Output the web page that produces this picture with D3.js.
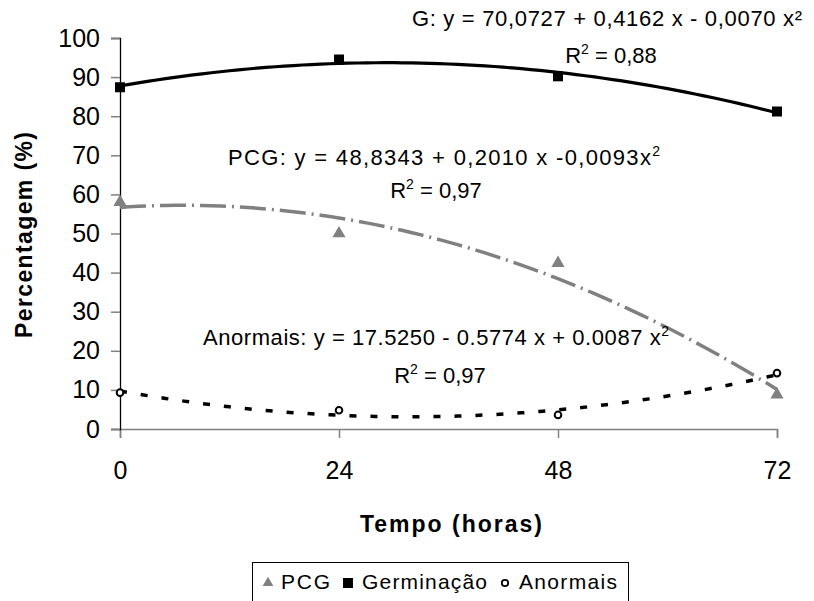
<html>
<head>
<script src="https://cdn.jsdelivr.net/npm/d3@7"></script>
<style>
    body { margin: 0; padding: 0; background: #fff; }
    svg text { font-family: "Liberation Sans", Arial, sans-serif; }
</style>
</head>
<body>
<div id="chart"></div>
<script>
    // horas
    var horas = [0, 24, 48, 72];
    var xTicks = [0, 24, 48, 72];
    var yTicks = [0, 10, 20, 30, 40, 50, 60, 70, 80, 90, 100];

    // medias observadas (%)
    var germinacao = [87.4, 94.5, 90.2, 81.2];
    var pcg = [58.0, 50.0, 42.4, 8.8];
    var anormais = [9.3, 4.8, 3.6, 14.3];

    var W = 814, H = 601;
    var svg = d3.select("#chart").append("svg")
        .attr("width", W).attr("height", H);

    var x = d3.scaleLinear().domain([0, 72]).range([120, 777]);
    var y = d3.scaleLinear().domain([0, 100]).range([429, 38]);

    // ajuste polinomial de 2o grau (minimos quadrados), como a linha de tendencia
    function fitQuad(xs, ys) {
        var n = xs.length, s = [0, 0, 0, 0, 0], t = [0, 0, 0];
        for (var i = 0; i < n; i++) {
            for (var k = 0; k < 5; k++) s[k] += Math.pow(xs[i], k);
            for (var k = 0; k < 3; k++) t[k] += ys[i] * Math.pow(xs[i], k);
        }
        var A = [[s[0], s[1], s[2], t[0]], [s[1], s[2], s[3], t[1]], [s[2], s[3], s[4], t[2]]];
        for (var c = 0; c < 3; c++) {
            for (var r = c + 1; r < 3; r++) {
                var f = A[r][c] / A[c][c];
                for (var k = c; k < 4; k++) A[r][k] -= f * A[c][k];
            }
        }
        var b = [0, 0, 0];
        for (var r = 2; r >= 0; r--) {
            var v = A[r][3];
            for (var k = r + 1; k < 3; k++) v -= A[r][k] * b[k];
            b[r] = v / A[r][r];
        }
        return function(v) { return b[0] + b[1] * v + b[2] * v * v; };
    }

    function trend(ys) {
        var f = fitQuad(horas, ys);
        return d3.range(0, 72.01, 1).map(function(v) { return [v, f(v)]; });
    }

    var line = d3.line()
        .x(function(d) { return x(d[0]); })
        .y(function(d) { return y(d[1]); });

    // eixo x
    var gx = svg.append("g").attr("transform", "translate(0," + y(0) + ")")
        .call(d3.axisBottom(x).tickValues(xTicks).tickSize(9).tickPadding(23));
    gx.select(".domain").attr("stroke", "#808080").attr("stroke-width", 1.5);
    gx.selectAll(".tick line").attr("stroke", "#808080").attr("stroke-width", 1.5);
    gx.selectAll("text").attr("font-size", 25).attr("fill", "#000");

    // eixo y
    var gy = svg.append("g").attr("transform", "translate(" + x(0) + ",0)")
        .call(d3.axisLeft(y).tickValues(yTicks).tickSize(9).tickPadding(11));
    gy.select(".domain").attr("stroke", "#000").attr("stroke-width", 1.3);
    gy.selectAll(".tick line").attr("stroke", "#808080").attr("stroke-width", 1.5);
    gy.selectAll("text").attr("font-size", 25).attr("fill", "#000");

    // linhas de tendencia
    svg.append("path").datum(trend(germinacao)).attr("d", line)
        .attr("fill", "none").attr("stroke", "#000").attr("stroke-width", 3.2);
    svg.append("path").datum(trend(pcg)).attr("d", line)
        .attr("fill", "none").attr("stroke", "#808080").attr("stroke-width", 3.5)
        .attr("stroke-dasharray", "26,6,2,6");
    svg.append("path").datum(trend(anormais)).attr("d", line)
        .attr("fill", "none").attr("stroke", "#000").attr("stroke-width", 3.5)
        .attr("stroke-dasharray", "7,14");

    // pontos
    svg.selectAll(".sq").data(germinacao).enter().append("rect")
        .attr("x", function(d, i) { return x(horas[i]) - 5; })
        .attr("y", function(d) { return y(d) - 5; })
        .attr("width", 10).attr("height", 10).attr("fill", "#000");

    var tri = d3.symbol().type(d3.symbolTriangle).size(75);
    svg.selectAll(".tri").data(pcg).enter().append("path")
        .attr("d", tri)
        .attr("transform", function(d, i) { return "translate(" + x(horas[i]) + "," + y(d) + ")"; })
        .attr("fill", "#808080");

    svg.selectAll(".ci").data(anormais).enter().append("circle")
        .attr("cx", function(d, i) { return x(horas[i]); })
        .attr("cy", function(d) { return y(d); })
        .attr("r", 3.3).attr("fill", "#fff").attr("stroke", "#000").attr("stroke-width", 2);

    // equacoes
    function eq(cx, by, len, parts) {
        var t = svg.append("text").attr("x", cx).attr("y", by)
            .attr("text-anchor", "middle").attr("font-size", 22).attr("fill", "#000");
        if (len) t.attr("textLength", len).attr("lengthAdjust", "spacing");
        parts.forEach(function(p) {
            var s = t.append("tspan").text(p[0]);
            if (p[1]) s.attr("dy", -9).attr("font-size", 14);
            if (p[2]) s.attr("dy", 9);
        });
    }
    eq(607, 26, 390, [["G: y = 70,0727 + 0,4162 x - 0,0070 x²"]]);
    eq(611, 63, 0, [["R"], ["2", true], [" = 0,88", false, true]]);
    eq(444, 165, 432, [["PCG: y = 48,8343 + 0,2010 x -0,0093x"], ["2", true]]);
    eq(436, 198, 0, [["R"], ["2", true], [" = 0,97", false, true]]);
    eq(436, 345, 466, [["Anormais: y = 17.5250 - 0.5774 x + 0.0087 x"], ["2", true]]);
    eq(440, 383, 0, [["R"], ["2", true], [" = 0,97", false, true]]);

    // titulos
    svg.append("text").attr("x", 451).attr("y", 532)
        .attr("text-anchor", "middle").attr("font-size", 23).attr("font-weight", "bold")
        .attr("textLength", 182).attr("lengthAdjust", "spacing").text("Tempo (horas)");
    svg.append("text").attr("transform", "translate(32,235) rotate(-90)")
        .attr("text-anchor", "middle").attr("font-size", 23).attr("font-weight", "bold")
        .attr("textLength", 206).attr("lengthAdjust", "spacing").text("Percentagem (%)");

    // legenda
    svg.append("rect").attr("x", 252.5).attr("y", 562.5).attr("width", 376).attr("height", 45)
        .attr("fill", "#fff").attr("stroke", "#000").attr("stroke-width", 1);
    var lg = svg.append("g").attr("font-size", 21);
    lg.append("path").attr("d", d3.symbol().type(d3.symbolTriangle).size(50))
        .attr("transform", "translate(268,583)").attr("fill", "#808080");
    lg.append("text").attr("x", 281).attr("y", 589).attr("textLength", 49).text("PCG");
    lg.append("rect").attr("x", 343).attr("y", 578).attr("width", 10).attr("height", 10).attr("fill", "#000");
    lg.append("text").attr("x", 362).attr("y", 589).attr("textLength", 125).text("Germinação");
    lg.append("circle").attr("cx", 505).attr("cy", 583).attr("r", 3.2).attr("fill", "#fff")
        .attr("stroke", "#000").attr("stroke-width", 1.8);
    lg.append("text").attr("x", 519).attr("y", 589).attr("textLength", 98).text("Anormais");
</script>
</body>
</html>
